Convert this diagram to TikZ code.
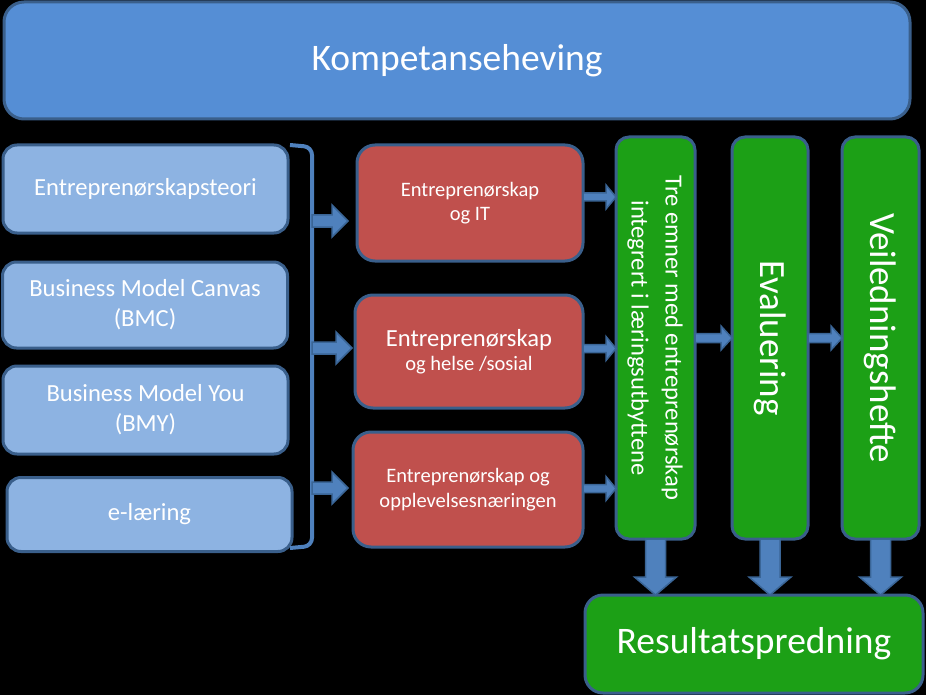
\documentclass[tikz,border=0pt]{standalone}
\usepackage{fontspec}
\setmainfont{Carlito}
\usepackage{graphicx}
\usetikzlibrary{calc}
\definecolor{topfill}{HTML}{558ED5}
\definecolor{lblue}{HTML}{8DB3E2}
\definecolor{redc}{HTML}{C0504D}
\definecolor{greenc}{HTML}{1CA016}
\definecolor{bordc}{HTML}{3A5F8B}
\definecolor{arrfill}{HTML}{4F81BD}
\definecolor{arrline}{HTML}{3A6596}
\tikzset{
  box/.style={draw=bordc, line width=3pt, align=center, text=white, inner sep=0pt, outer sep=0pt},
  topbox/.style={box, fill=topfill, rounded corners=20pt, font=\fontsize{37.5}{45}\selectfont},
  lbox/.style={box, fill=lblue, rounded corners=14pt, minimum width=285pt, font=\fontsize{24.6}{30}\selectfont},
  rbox/.style={box, fill=redc, rounded corners=18pt, font=\fontsize{20.5}{24.5}\selectfont},
  gcol/.style={box, fill=greenc, rounded corners=13pt, minimum height=402pt},
  resbox/.style={box, fill=greenc, rounded corners=18pt, font=\fontsize{37.5}{45}\selectfont},
  barrow/.style={fill=arrfill, draw=arrline, line width=1.5pt, line join=miter},
  bracket/.style={draw=arrfill, line width=4pt, rounded corners=8pt},
}
% horizontal block arrow: start, end, body half, head half, head length
\newcommand\harr[5]{%
  \path[barrow] let \p1=#1, \p2=#2 in
    (\x1,\y1+#3pt) -- (\x2-#5pt,\y1+#3pt) -- (\x2-#5pt,\y1+#4pt) -- (\x2,\y1)
    -- (\x2-#5pt,\y1-#4pt) -- (\x2-#5pt,\y1-#3pt) -- (\x1,\y1-#3pt) -- cycle;}
% vertical (downward) block arrow
\newcommand\varr[5]{%
  \path[barrow] let \p1=#1, \p2=#2 in
    (\x1+#3pt,\y1) -- (\x1+#3pt,\y2+#5pt) -- (\x1+#4pt,\y2+#5pt) -- (\x1,\y2)
    -- (\x1-#4pt,\y2+#5pt) -- (\x1-#3pt,\y2+#5pt) -- (\x1-#3pt,\y1) -- cycle;}
\begin{document}
\begin{tikzpicture}[x=1pt,y=-1pt]
\fill[black] (0,0) rectangle (926,695);
\useasboundingbox (0,0) rectangle (926,695);

\node[topbox, minimum width=906pt, minimum height=117pt] (top) at (457,60.5) {Kompetanseheving};

\node[lbox, minimum height=88pt] (l1) at (145.5,189) {Entreprenørskapsteori};
\node[lbox, minimum height=86pt] (l2) at (145,305) {Business Model Canvas\\(BMC)};
\node[lbox, minimum height=88pt] (l3) at (145.5,410) {Business Model You\\(BMY)};
\node[lbox, minimum height=74pt] (l4) at (149.5,514.5) {e-læring};

\draw[bracket] (290,145) -- (312,147) -- (312,546) -- (290,548);
\coordinate (k1) at (312,221);
\coordinate (k2) at (312,348);
\coordinate (k3) at (312,488);

\node[rbox, minimum width=226pt, minimum height=116pt] (r1) at (470,203) {Entreprenørskap\\og IT};
\node[rbox, minimum width=228pt, minimum height=113pt] (r2) at (469,351.5)
  {{\fontsize{24.6}{28}\selectfont Entreprenørskap}\\og helse /sosial};
\node[rbox, minimum width=230pt, minimum height=115pt] (r3) at (468,489.5) {Entreprenørskap og\\opplevelsesnæringen};

\node[gcol, minimum width=79pt] (tre) at (655.5,338)
  {\rotatebox{-90}{\fontsize{24.6}{34}\selectfont\begin{tabular}{@{}c@{}}Tre emner med entreprenørskap\\integrert i læringsutbyttene\end{tabular}}};
\node[gcol, minimum width=76pt] (evl) at (770,338)
  {\rotatebox{-90}{\fontsize{37}{44}\selectfont Evaluering}};
\node[gcol, minimum width=77pt] (vei) at (880.5,338)
  {\rotatebox{-90}{\fontsize{37}{44}\selectfont Veiledningshefte}};

\node[resbox, minimum width=338pt, minimum height=98pt] (res) at (754,644) {Resultatspredning};

% bracket -> red boxes
\harr{(k1)}{($(r1.west)+(-9,0)$)}{6}{16}{16}
\harr{(k2)}{($(r2.west)+(-3,0)$)}{6}{16}{16}
\harr{(k3)}{($(r3.west)+(-5,0)$)}{6}{16}{16}
% red boxes -> first column
\harr{($(r1.east)+(0,-6)$)}{(tre.west)}{4}{12}{10}
\harr{($(r2.east)+(0,-3)$)}{(tre.west)}{4}{12}{10}
\harr{($(r3.east)+(0,-1)$)}{(tre.west)}{4}{12}{10}
% column -> column
\harr{(tre.east)}{(evl.west)}{4.5}{12}{11}
\harr{(evl.east)}{(vei.west)}{4.5}{12}{11}
% columns -> result
\varr{(tre.south)}{(res.north)}{10}{21}{18}
\varr{(evl.south)}{(res.north)}{10}{21}{18}
\varr{(vei.south)}{(res.north)}{10}{21}{18}
\end{tikzpicture}
\end{document}
